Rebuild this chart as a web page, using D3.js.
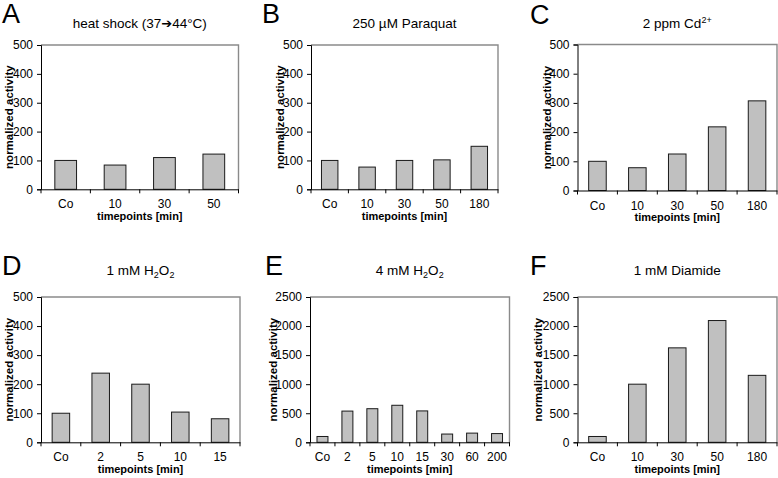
<!DOCTYPE html>
<html><head><meta charset="utf-8">
<script src="https://cdn.jsdelivr.net/npm/d3@7"></script>
<style>
body{margin:0;background:#fff;}
svg{display:block;font-family:"Liberation Sans",Arial,sans-serif;}
</style></head>
<body><svg id="c" width="778" height="478"></svg>
<script>
// ---- data ----
const catsA = ["Co","10","30","50"];
const valsA = [100, 84, 110, 122];
const catsB = ["Co","10","30","50","180"];
const valsB = [100, 77, 100, 102, 149];
const catsC = ["Co","10","30","50","180"];
const valsC = [100, 78, 125, 218, 307];
const catsD = ["Co","2","5","10","15"];
const valsD = [100, 238, 200, 104, 81];
const catsE = ["Co","2","5","10","15","30","60","200"];
const valsE = [100, 537, 578, 637, 540, 142, 158, 150];
const catsF = ["Co","10","30","50","180"];
const valsF = [100, 1000, 1625, 2095, 1152];
const ticksSmall = [0,100,200,300,400,500];
const ticksLarge = [0,500,1000,1500,2000,2500];
const yTitle = "normalized activity";
const xTitle = "timepoints [min]";

const svg = d3.select("#c");

const panels = [
  {letter:"A", cats:catsA, vals:valsA, ticks:ticksSmall, box:[41,45,238.5,189.3], lx:2, ly:23.3, ylx:12.5,
   title:[{t:"heat shock (37"},{t:"\u2794",arrow:true},{t:"44\u00B0C)"}]},
  {letter:"B", cats:catsB, vals:valsB, ticks:ticksSmall, box:[311,45,498,189.3], lx:262, ly:23.3, ylx:283.5,
   title:[{t:"250 \u00B5M Paraquat"}]},
  {letter:"C", cats:catsC, vals:valsC, ticks:ticksSmall, box:[577.5,44.5,777,190.5], lx:530, ly:23.5, ylx:551,
   title:[{t:"2 ppm Cd"},{t:"2+",sup:true}]},
  {letter:"D", cats:catsD, vals:valsD, ticks:ticksSmall, box:[41,297,240,442.3], lx:2, ly:275, ylx:12.5,
   title:[{t:"1 mM H"},{t:"2",sub:true},{t:"O"},{t:"2",sub:true}]},
  {letter:"E", cats:catsE, vals:valsE, ticks:ticksLarge, box:[310,297,509.5,442.3], lx:265, ly:275, ylx:276.5,
   title:[{t:"4 mM H"},{t:"2",sub:true},{t:"O"},{t:"2",sub:true}]},
  {letter:"F", cats:catsF, vals:valsF, ticks:ticksLarge, box:[577.5,297,777,442.3], lx:530, ly:275, ylx:542,
   title:[{t:"1 mM Diamide"}]}
];

panels.forEach(p => {
  const [l,t,r,b] = p.box;
  const g = svg.append("g");
  const x = d3.scaleBand().domain(p.cats).range([l,r]).paddingInner(0.56).paddingOuter(0.28);
  const y = d3.scaleLinear().domain([0, p.ticks[p.ticks.length-1]]).range([b,t]);
  const step = x.step();

  g.append("text").attr("x",p.lx).attr("y",p.ly).attr("font-size",27).attr("fill","#000").text(p.letter);

  const cx = (l+r)/2;
  const titleBase = p.letter < "D" ? 27.5 : 274.5;
  const tt = g.append("text").attr("x",cx).attr("y",titleBase).attr("text-anchor","middle")
    .attr("font-size",13.5).attr("fill","#000");
  p.title.forEach(s => {
    const ts = tt.append("tspan").text(s.t);
    if (s.sub) ts.attr("font-size",9).attr("baseline-shift","-3");
    if (s.sup) ts.attr("font-size",9).attr("baseline-shift","5");
    if (s.arrow) ts.attr("font-family","DejaVu Sans").attr("font-weight","bold").attr("font-size",13);
  });

  g.append("path").attr("d",`M${l},${t}H${r}V${b}`).attr("fill","none").attr("stroke","#8a8a8a").attr("stroke-width",1.4);

  g.selectAll("rect.bar").data(p.cats.map((c,i)=>({c, v:p.vals[i]}))).enter().append("rect")
    .attr("class","bar")
    .attr("x", d => x(d.c)).attr("width", x.bandwidth())
    .attr("y", d => y(d.v)).attr("height", d => b - y(d.v))
    .attr("fill","#c0c0c0").attr("stroke","#1a1a1a").attr("stroke-width",1);

  const ya = d3.axisLeft(y).tickValues(p.ticks).tickSize(4).tickPadding(4).tickFormat(d3.format("d"));
  const yg = g.append("g").attr("transform",`translate(${l},0)`).call(ya);
  yg.select(".domain").attr("stroke","#000");
  yg.selectAll(".tick line").attr("stroke","#000");
  yg.selectAll("text").attr("font-size",12).attr("font-family","Liberation Sans, Arial, sans-serif").attr("fill","#000");

  const xa = d3.axisBottom(x).tickSize(0).tickPadding(10);
  const xg = g.append("g").attr("transform",`translate(0,${b})`).call(xa);
  xg.select(".domain").attr("stroke","#000");
  xg.selectAll("text").attr("font-size",12).attr("font-family","Liberation Sans, Arial, sans-serif").attr("fill","#000")
    .attr("dy",null).attr("y",19);
  const bounds = d3.range(p.cats.length+1);
  g.selectAll("line.bt").data(bounds).enter().append("line").attr("class","bt")
    .attr("x1", i => l + i*step).attr("x2", i => l + i*step)
    .attr("y1", b).attr("y2", b+4).attr("stroke","#000").attr("stroke-width",1);

  g.append("text").attr("x",cx).attr("y",b+30.5).attr("text-anchor","middle")
    .attr("font-size",11).attr("font-weight","bold").attr("fill","#000").text(xTitle);
  g.append("text").attr("transform",`translate(${p.ylx},${(t+b)/2}) rotate(-90)`).attr("text-anchor","middle")
    .attr("font-size",11.5).attr("font-weight","bold").attr("fill","#000").text(yTitle);
});
</script></body></html>
